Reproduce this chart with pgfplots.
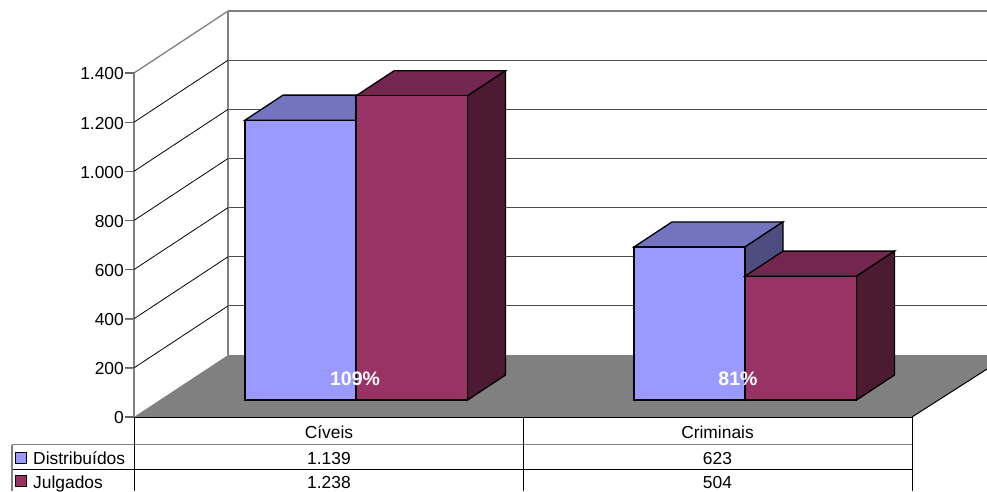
\documentclass[border=0pt]{standalone}
\usepackage{pgfplots}
\pgfplotsset{compat=1.18}
\usepackage{fontspec}
\setmainfont{Liberation Sans}
\definecolor{distF}{HTML}{9999FF}
\definecolor{distT}{HTML}{7373BF}
\definecolor{distS}{HTML}{4D4D80}
\definecolor{julF}{HTML}{993366}
\definecolor{julT}{HTML}{732650}
\definecolor{julS}{HTML}{4D1A33}
\definecolor{floorc}{HTML}{808080}
\pgfplotsset{
  wall/.style={y filter/.expression={y+252}, no markers},
  bar/.style={y filter/.expression={y+69}, no markers, draw=black, line width=1.3pt, line join=miter},
  tickmark/.style={no markers, black!60, line width=1.1pt},
}
\newcommand{\tfont}{\fontsize{17.4}{17.4}\selectfont}
\begin{document}
\begin{tikzpicture}[x=1pt,y=1pt]
  \path[use as bounding box] (0,0) rectangle (987,491);
  \begin{axis}[
      at={(134pt,74pt)}, anchor=south west,
      scale only axis, width=853pt, height=417pt,
      xmin=134, xmax=987, ymin=0, ymax=1697.09,
      clip=false,
      axis line style={draw=none},
      xtick=\empty,
      ytick={0,200,400,600,800,1000,1200,1400},
      ytick pos=left,
      tick align=outside,
      major tick length=9pt,
      yticklabel style={font=\tfont, inner sep=1pt, yshift=-1pt},
      /pgf/number format/assume math mode=true,
      /pgf/number format/1000 sep={.},
      scaled y ticks=false,
    ]
    % walls
    \addplot[wall, black!70, line width=1pt] coordinates {(228,200)(987,200)};
    \addplot[wall, black!70, line width=1pt] coordinates {(228,400)(987,400)};
    \addplot[wall, black!70, line width=1pt] coordinates {(228,600)(987,600)};
    \addplot[wall, black!70, line width=1pt] coordinates {(228,800)(987,800)};
    \addplot[wall, black!70, line width=1pt] coordinates {(228,1000)(987,1000)};
    \addplot[wall, black!70, line width=1pt] coordinates {(228,1200)(987,1200)};
    \addplot[wall, black!50, line width=1.3pt] coordinates {(228,1400)(987,1400)};
    \addplot[wall, black!50, line width=1.3pt] coordinates {(228,0)(228,1400)};
    \addplot[no markers, black!50, line width=1.3pt] coordinates {(134,0)(134,1400)};
    \addplot[no markers, black, line width=0.8pt] coordinates {(134,200)(228,452)};
    \addplot[no markers, black, line width=0.8pt] coordinates {(134,400)(228,652)};
    \addplot[no markers, black, line width=0.8pt] coordinates {(134,600)(228,852)};
    \addplot[no markers, black, line width=0.8pt] coordinates {(134,800)(228,1052)};
    \addplot[no markers, black, line width=0.8pt] coordinates {(134,1000)(228,1252)};
    \addplot[no markers, black, line width=0.8pt] coordinates {(134,1200)(228,1452)};
    \addplot[no markers, black!50, line width=1.3pt] coordinates {(134,1400)(228,1652)};
    % y axis tick marks
    \addplot[tickmark] coordinates {(125,0)(134,0)};
    \addplot[tickmark] coordinates {(125,200)(134,200)};
    \addplot[tickmark] coordinates {(125,400)(134,400)};
    \addplot[tickmark] coordinates {(125,600)(134,600)};
    \addplot[tickmark] coordinates {(125,800)(134,800)};
    \addplot[tickmark] coordinates {(125,1000)(134,1000)};
    \addplot[tickmark] coordinates {(125,1200)(134,1200)};
    \addplot[tickmark] coordinates {(125,1400)(134,1400)};
    % floor
    \addplot[no markers, draw=none, fill=floorc] coordinates {(134,0)(228,252)(987,252)(987,195)(912,0)} --cycle;
    \addplot[no markers, black, line width=1pt] coordinates {(912,0)(987,195)};
    % Civeis
    \addplot[bar, fill=distT] coordinates {(245,1139)(283,1241)(394,1241)(356,1139)} --cycle;
    \addplot[bar, fill=distF] coordinates {(245,0)(245,1139)(356,1139)(356,0)} --cycle;
    \addplot[bar, fill=julT] coordinates {(356,1238)(394,1340)(505.5,1340)(467.5,1238)} --cycle;
    \addplot[bar, fill=julS] coordinates {(467.5,0)(505.5,102)(505.5,1340)(467.5,1238)} --cycle;
    \addplot[bar, fill=julF] coordinates {(356,0)(356,1238)(467.5,1238)(467.5,0)} --cycle;
    % Criminais
    \addplot[bar, fill=distT] coordinates {(634,623)(672,725)(783,725)(745,623)} --cycle;
    \addplot[bar, fill=distS] coordinates {(745,0)(783,102)(783,725)(745,623)} --cycle;
    \addplot[bar, fill=distF] coordinates {(634,0)(634,623)(745,623)(745,0)} --cycle;
    \addplot[bar, fill=julT] coordinates {(745,504)(783,606)(894.5,606)(856.5,504)} --cycle;
    \addplot[bar, fill=julS] coordinates {(856.5,0)(894.5,102)(894.5,606)(856.5,504)} --cycle;
    \addplot[bar, fill=julF] coordinates {(745,0)(745,504)(856.5,504)(856.5,0)} --cycle;
    % legend keys
    \addplot[only marks, mark=square*, mark size=5.5pt, mark options={fill=distF, draw=black, line width=1pt}] coordinates {(21.5,-165)};
    \addplot[only marks, mark=square*, mark size=5.5pt, mark options={fill=julF, draw=black, line width=1pt}] coordinates {(21.5,-262)};
    % percent labels
    \node[font=\fontsize{19.5}{19.5}\selectfont\bfseries, text=white] at (axis cs:355,155) {109\%};
    \node[font=\fontsize{19.5}{19.5}\selectfont\bfseries, text=white] at (axis cs:738,155) {81\%};
  \end{axis}
  % data table under the chart
  \draw[black, line width=1.3pt] (134,73.5) -- (912,73.5);
  \draw[black!50, line width=1.2pt] (12,46.5) -- (912,46.5);
  \draw[black, line width=1pt] (12,22) -- (912,22);
  \draw[black!50, line width=1.2pt] (12,46.5) -- (12,0);
  \draw[black, line width=1pt] (134,74) -- (134,0);
  \draw[black, line width=1pt] (523,74) -- (523,0);
  \draw[black, line width=1pt] (912,74) -- (912,0);
  \node[font=\tfont] at (329,58.5) {Cíveis};
  \node[font=\tfont] at (717.5,58.5) {Criminais};
  \node[font=\tfont, anchor=west, inner sep=0pt] at (33,32.5) {Distribuídos};
  \node[font=\tfont, anchor=west, inner sep=0pt] at (33,7) {Julgados};
  \node[font=\tfont] at (329,32.5) {1.139};
  \node[font=\tfont] at (717.5,32.5) {623};
  \node[font=\tfont, inner sep=0pt] at (329,8.5) {1.238};
  \node[font=\tfont, inner sep=0pt] at (717.5,8.5) {504};
\end{tikzpicture}
\end{document}
